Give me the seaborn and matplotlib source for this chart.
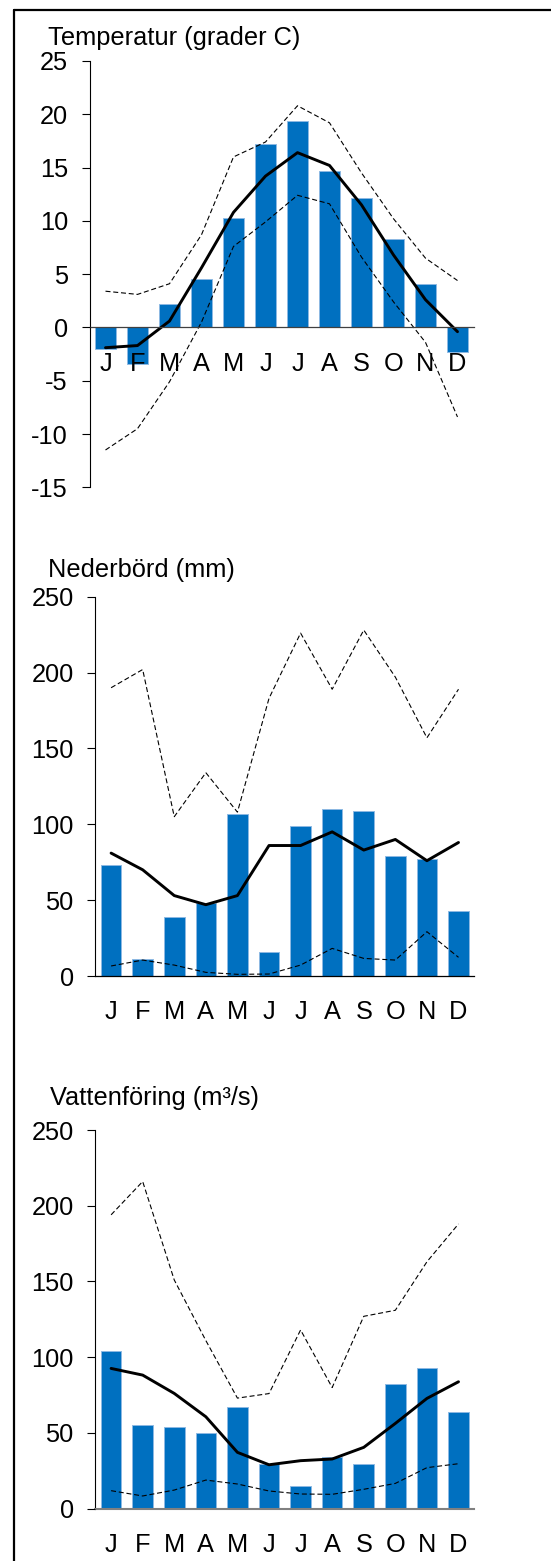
import matplotlib
matplotlib.use("Agg")
import matplotlib.pyplot as plt
from matplotlib.lines import Line2D
import pandas as pd
import seaborn as sns

# Month keys (unique, used as categories) and the single-letter tick labels
months = ["Jan", "Feb", "Mar", "Apr", "May", "Jun",
          "Jul", "Aug", "Sep", "Oct", "Nov", "Dec"]
month_letters = ["J", "F", "M", "A", "M", "J", "J", "A", "S", "O", "N", "D"]

# Temperature (deg C): monthly value, long-term mean, max and min
temp_year = [-2.0, -3.4, 2.2, 4.5, 10.3, 17.2, 19.4, 14.7, 12.1, 8.3, 4.1, -2.3]
temp_mean = [-1.9, -1.7, 0.6, 5.6, 10.8, 14.2, 16.4, 15.2, 11.5, 6.8, 2.6, -0.4]
temp_max = [3.4, 3.1, 4.1, 8.7, 16.0, 17.4, 20.8, 19.2, 14.5, 10.2, 6.5, 4.4]
temp_min = [-11.5, -9.5, -5.1, 0.5, 7.6, 9.9, 12.4, 11.6, 6.6, 2.4, -1.4, -8.4]

# Precipitation (mm)
prec_year = [73, 11, 39, 48, 107, 16, 99, 110, 109, 79, 77, 43]
prec_mean = [81, 70, 53, 47, 53, 86, 86, 95, 83, 90, 76, 88]
prec_max = [190, 202, 105, 134, 108, 183, 226, 189, 228, 197, 157, 189]
prec_min = [6.6, 10.5, 7.2, 2.4, 1.1, 1.3, 7.2, 18.2, 11.6, 10.5, 29.2, 12.3]

# Discharge (m3/s)
flow_year = [104, 55, 54, 50, 67, 29.5, 15, 34, 29.7, 82.5, 93, 64]
flow_mean = [92.6, 88.2, 76.1, 60.7, 37.2, 29.0, 31.7, 32.8, 40.5, 56.3, 72.8, 83.8]
flow_max = [194, 216, 151, 111, 73, 76, 118, 80, 127, 131, 163, 188]
flow_min = [11.9, 8.4, 12.3, 18.9, 16.3, 11.7, 9.7, 9.5, 12.8, 16.7, 27.1, 29.7]

temp_ticks = [25, 20, 15, 10, 5, 0, -5, -10, -15]
amount_ticks = [250, 200, 150, 100, 50, 0]

BAR_BLUE = "#0070C0"
BAR_EDGE = "#8DB9E3"

sns.set_theme(style="white")
plt.rcParams["font.family"] = ["Liberation Sans", "DejaVu Sans"]
plt.rcParams["axes.unicode_minus"] = False
for key in ("text.color", "xtick.color", "ytick.color", "axes.labelcolor"):
    plt.rcParams[key] = "black"

W, H = 551, 1561
fig = plt.figure(figsize=(W / 100, H / 100), dpi=100)

FS = 18.3


def panel(rect, bars, mean, hi, lo, ylim, ticks, title, title_pos,
          base_color, base_lw, zero_spine=False):
    x0, y0, x1, y1 = rect
    ax = fig.add_axes([x0 / W, 1 - y1 / H, (x1 - x0) / W, (y1 - y0) / H])
    df = pd.DataFrame({"month": months, "value": bars})
    sns.barplot(data=df, x="month", y="value", color=BAR_BLUE, saturation=1,
                width=0.65, edgecolor=BAR_EDGE, linewidth=0.7, ax=ax)
    for series in (hi, lo):
        sns.lineplot(x=months, y=series, sort=False, color="black",
                     linewidth=0.8, linestyle=(0, (4.5, 2.5)), ax=ax)
    sns.lineplot(x=months, y=mean, sort=False, color="black",
                 linewidth=2.1, ax=ax)

    for side in ("top", "right"):
        ax.spines[side].set_visible(False)
    ax.spines["left"].set_color("black")
    ax.spines["left"].set_linewidth(0.8)
    ax.spines["bottom"].set_color(base_color)
    ax.spines["bottom"].set_linewidth(base_lw)
    if zero_spine:
        ax.spines["bottom"].set_position(("data", 0))

    ax.set_xlim(-0.5, 11.5)
    ax.set_ylim(*ylim)
    ax.set_xlabel("")
    ax.set_ylabel("")
    ax.set_yticks(ticks)
    ax.set_yticklabels([str(t) for t in ticks], fontsize=FS)
    ax.set_xticks(range(12))
    ax.set_xticklabels(month_letters, fontsize=FS)
    ax.tick_params(axis="y", direction="out", length=5.5, width=0.8,
                   color="black", pad=10, left=True, labelcolor="black")
    ax.tick_params(axis="x", length=0, pad=17.5, labelcolor="black")
    ax.set_axisbelow(False)
    ax.grid(False)
    ax.set_facecolor("none")
    fig.text(title_pos[0] / W, 1 - title_pos[1] / H, title, fontsize=FS,
             ha="left", va="baseline", color="black")
    return ax


panel((89.5, 61.0, 473.5, 487.3), temp_year, temp_mean, temp_max, temp_min,
      (-15, 25), temp_ticks, "Temperatur (grader C)", (48, 45),
      "#404040", 0.9, zero_spine=True)
panel((95.3, 596.7, 474.3, 976.0), prec_year, prec_mean, prec_max, prec_min,
      (0, 250), amount_ticks, "Nederbörd (mm)", (48, 577),
      "black", 0.9)
panel((95.3, 1130.0, 474.3, 1508.7), flow_year, flow_mean, flow_max, flow_min,
      (0, 250), amount_ticks, "Vattenföring (m³/s)", (50, 1105),
      "#808080", 1.5)

# Outer frame (left and top edges)
fx = 13.5 / W
fy = 1 - 10 / H
fig.add_artist(Line2D([fx, fx], [0, fy], transform=fig.transFigure,
                      color="black", linewidth=1.6))
fig.add_artist(Line2D([fx, 1], [fy, fy], transform=fig.transFigure,
                      color="black", linewidth=1.6))

fig.savefig("out.png", dpi=100, facecolor="white")
